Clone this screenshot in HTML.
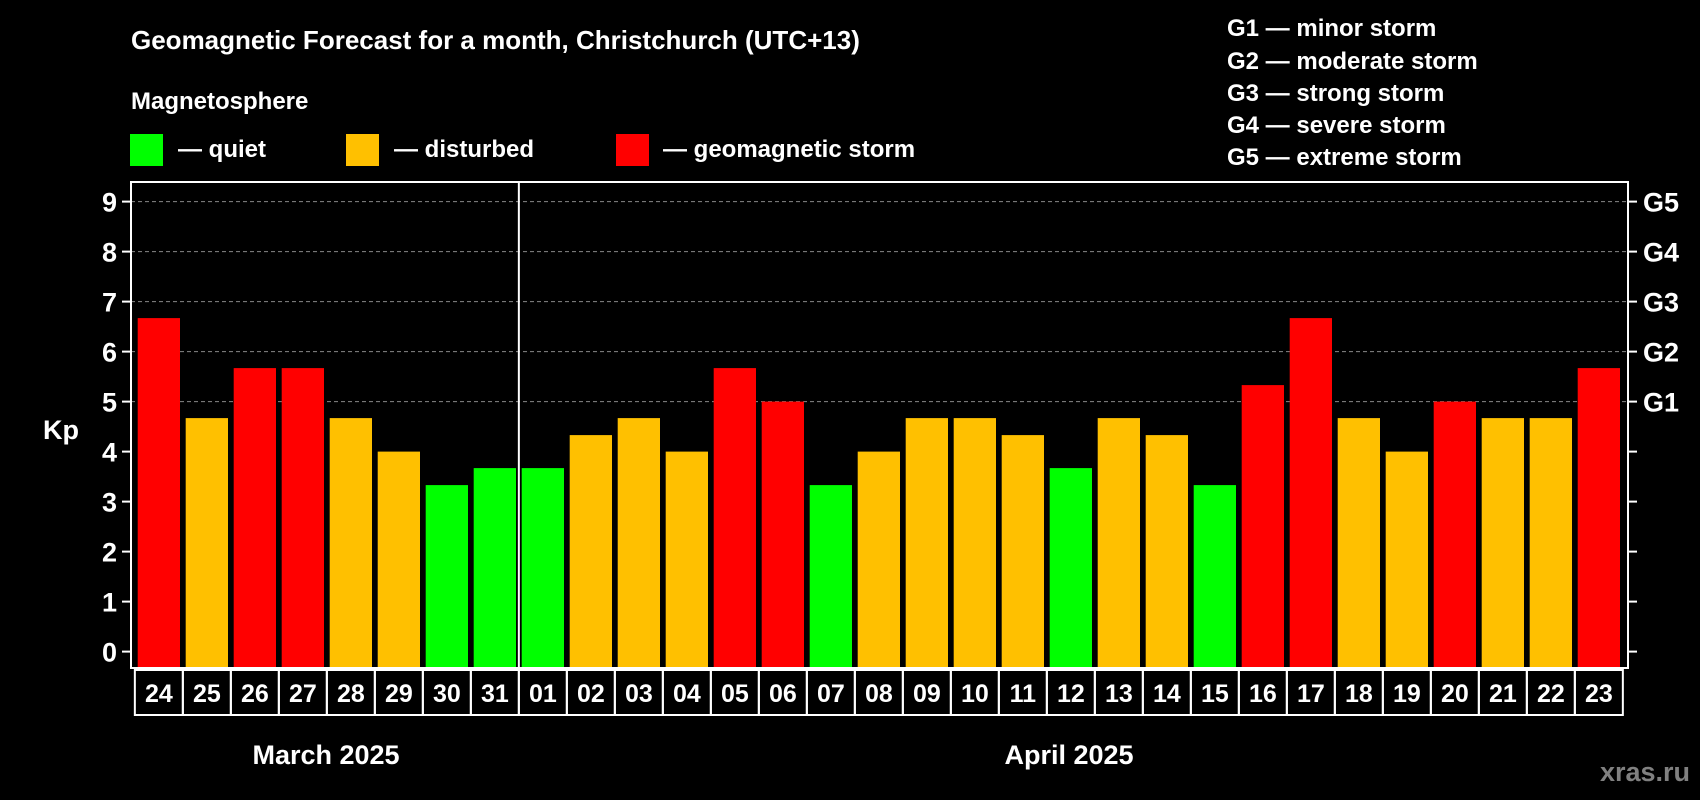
<!DOCTYPE html>
<html><head><meta charset="utf-8"><style>
html,body{margin:0;padding:0;background:#000;width:1700px;height:800px;overflow:hidden}
svg{display:block;font-family:"Liberation Sans",Arial,sans-serif;font-weight:bold}
</style></head><body>
<svg id="chart" width="1700" height="800" viewBox="0 0 1700 800" xmlns="http://www.w3.org/2000/svg">
<text x="131" y="49" fill="#fff" font-size="26">Geomagnetic Forecast for a month, Christchurch (UTC+13)</text>
<text x="131" y="109" fill="#fff" font-size="24">Magnetosphere</text>
<rect x="130" y="134" width="33" height="32" fill="#00ff00"/>
<text x="178" y="157" fill="#fff" font-size="24">— quiet</text>
<rect x="346" y="134" width="33" height="32" fill="#ffc000"/>
<text x="394" y="157" fill="#fff" font-size="24">— disturbed</text>
<rect x="616" y="134" width="33" height="32" fill="#ff0000"/>
<text x="663" y="157" fill="#fff" font-size="24">— geomagnetic storm</text>
<g fill="#fff" font-size="24">
<text x="1227" y="36">G1 — minor storm</text>
<text x="1227" y="69">G2 — moderate storm</text>
<text x="1227" y="101">G3 — strong storm</text>
<text x="1227" y="133">G4 — severe storm</text>
<text x="1227" y="165">G5 — extreme storm</text>
</g>
<text x="43" y="439" fill="#fff" font-size="27">Kp</text>
<text x="326" y="764" fill="#fff" font-size="27" text-anchor="middle">March 2025</text>
<text x="1069" y="764" fill="#fff" font-size="27" text-anchor="middle">April 2025</text>
<text x="1690" y="781" fill="#808080" font-size="27" text-anchor="end">xras.ru</text>
<g id="plot"></g>
</svg>
<script>
const days = ["24","25","26","27","28","29","30","31","01","02","03","04","05","06","07","08","09","10","11","12","13","14","15","16","17","18","19","20","21","22","23"];
const kp = [6.67,4.67,5.67,5.67,4.67,4,3.33,3.67,3.67,4.33,4.67,4,5.67,5,3.33,4,4.67,4.67,4.33,3.67,4.67,4.33,3.33,5.33,6.67,4.67,4,5,4.67,4.67,5.67];
const yTicks = [0,1,2,3,4,5,6,7,8,9];
const gridLevels = [5,6,7,8,9];
const gLabels = ["G1","G2","G3","G4","G5"];

const NS = "http://www.w3.org/2000/svg";
const g = document.getElementById('plot');
const L = 131, R = 1628, T = 182, B = 668;
const y0 = 651.6, unit = 50;
const yS = v => y0 - v * unit;
const x0 = 137.7, pitch = 48.0, bw = 42.3;
const xS = i => x0 + i * pitch;
function mk(tag, attrs){const e=document.createElementNS(NS,tag);for(const k in attrs)e.setAttribute(k,attrs[k]);g.appendChild(e);return e;}

gridLevels.forEach(v=>{
  const e=mk('line',{x1:L,x2:R,y1:yS(v),y2:yS(v),stroke:'#888','stroke-width':1,'stroke-dasharray':'4,3'});
  
  
});
kp.forEach((v,i)=>{
  const col = v>=5 ? '#ff0000' : (v>=4 ? '#ffc000' : '#00ff00');
  const e=mk('rect',{x:xS(i),y:yS(v),width:bw,height:B-yS(v),fill:col});
  
  
});
yTicks.forEach(v=>{
  const t=mk('line',{x1:L-9,x2:L,y1:yS(v),y2:yS(v),stroke:'#fff','stroke-width':2});
  
  
  const t2=mk('line',{x1:R,x2:R+9,y1:yS(v),y2:yS(v),stroke:'#fff','stroke-width':2});
  
  
  const l=mk('text',{x:L-14,y:yS(v)+10,fill:'#fff','font-size':27,'text-anchor':'end'});
  l.textContent=v;
  
  
});
gLabels.forEach((s,i)=>{
  const l=mk('text',{x:R+15,y:yS(5+i)+10,fill:'#fff','font-size':27});
  l.textContent=s;
  
  
});
const frame=mk('rect',{x:L,y:T,width:R-L,height:B-T,fill:'none',stroke:'#fff','stroke-width':2});


const divX = (xS(7)+bw + xS(8))/2;
const dv=mk('line',{x1:divX,x2:divX,y1:T,y2:B,stroke:'#fff','stroke-width':2});


days.forEach((d,i)=>{
  const cx = xS(i)+bw/2;
  const c=mk('rect',{x:cx-pitch/2,y:670,width:pitch,height:45,fill:'none',stroke:'#fff','stroke-width':2});
  
  
  const t=mk('text',{x:cx,y:702,fill:'#fff','font-size':25,'text-anchor':'middle'});
  t.textContent=d;
  
  
});
</script>
</body></html>
